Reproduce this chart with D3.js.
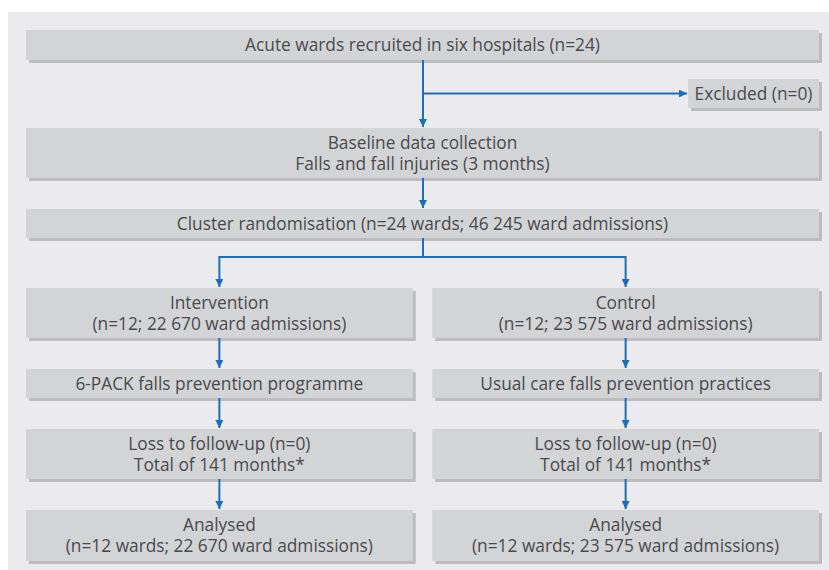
<!DOCTYPE html>
<html>
<head>
<meta charset="utf-8">
<script src="https://cdn.jsdelivr.net/npm/d3@7"></script>
<style>
  html, body { margin: 0; padding: 0; background: #ffffff; }
  svg { display: block; }
</style>
</head>
<body>
<svg id="chart" width="829" height="570"></svg>
<script>
// ---- data ----
const topLabels = [
  ["Acute wards recruited in six hospitals (n=24)"],
  ["Baseline data collection", "Falls and fall injuries (3 months)"],
  ["Cluster randomisation (n=24 wards; 46 245 ward admissions)"]
];
const excludedLabel = ["Excluded (n=0)"];
const arms = ["Intervention", "Control"];
const armLabels = [
  [
    ["Intervention", "(n=12; 22 670 ward admissions)"],
    ["6-PACK falls prevention programme"],
    ["Loss to follow-up (n=0)", "Total of 141 months*"],
    ["Analysed", "(n=12 wards; 22 670 ward admissions)"]
  ],
  [
    ["Control", "(n=12; 23 575 ward admissions)"],
    ["Usual care falls prevention practices"],
    ["Loss to follow-up (n=0)", "Total of 141 months*"],
    ["Analysed", "(n=12 wards; 23 575 ward admissions)"]
  ]
];

// ---- layout ----
const W = 829, H = 570;
const svg = d3.select("#chart");
const C = {
  panel: "#ebebed", box: "#d3d4d6", shadow: "#bcbdbf",
  text: "#4a4a4c", arrow: "#1a6fbc"
};
const FONT = "'Open Sans', 'Noto Sans', sans-serif";

// fit font size so the first label spans the same width as in the reference
let FS = 16;
{
  const t = svg.append("text").attr("font-family", FONT).attr("font-size", 20).text(topLabels[0][0]);
  const w = t.node().getComputedTextLength();
  t.remove();
  if (w > 0) FS = 20 * 355 / w;
}

const rowTops = [30, 128, 209, 288, 369, 429, 510];
const rowBots = [60, 178, 238, 338, 398, 479, 561];
const xFull = [26, 819];
const colX = d3.scaleBand().domain(arms).range([26, 819]).paddingInner(0.048);
const excl = { x0: 688, x1: 819, y0: 79, y1: 108 };

const defs = svg.append("defs");
defs.append("marker").attr("id", "ah")
  .attr("viewBox", "0 0 10 10").attr("refX", 10).attr("refY", 5)
  .attr("markerWidth", 10).attr("markerHeight", 8).attr("markerUnits", "userSpaceOnUse")
  .attr("orient", "auto")
  .append("path").attr("d", "M0,0L10,5L0,10Z").attr("fill", C.arrow);

svg.append("rect").attr("x", 8).attr("y", 12).attr("width", W - 8).attr("height", H - 12)
  .attr("fill", C.panel);

function box(x0, x1, y0, y1, lines) {
  const g = svg.append("g");
  g.append("rect").attr("x", x0 + 3).attr("y", y0 + 3).attr("width", x1 - x0).attr("height", y1 - y0)
    .attr("fill", C.shadow);
  g.append("rect").attr("x", x0).attr("y", y0).attr("width", x1 - x0).attr("height", y1 - y0)
    .attr("fill", C.box);
  const cx = (x0 + x1) / 2, cy = (y0 + y1) / 2;
  const lh = 21;
  lines.forEach((t, i) => {
    g.append("text")
      .attr("x", cx)
      .attr("y", cy + (i - (lines.length - 1) / 2) * lh)
      .attr("dy", "0.36em")
      .attr("text-anchor", "middle")
      .attr("font-family", FONT).attr("font-size", FS).attr("fill", C.text)
      .text(t);
  });
}

function arrow(pts) {
  svg.append("path")
    .attr("d", d3.line()(pts))
    .attr("fill", "none").attr("stroke", C.arrow).attr("stroke-width", 2)
    .attr("marker-end", "url(#ah)");
}
function line(pts) {
  svg.append("path")
    .attr("d", d3.line()(pts))
    .attr("fill", "none").attr("stroke", C.arrow).attr("stroke-width", 2);
}

const cxMain = 423;
topLabels.forEach((lines, i) => box(xFull[0], xFull[1], rowTops[i], rowBots[i], lines));
box(excl.x0, excl.x1, excl.y0, excl.y1, excludedLabel);

arrow([[cxMain, rowBots[0]], [cxMain, rowTops[1] - 1]]);
arrow([[cxMain, (excl.y0 + excl.y1) / 2], [excl.x0 - 1, (excl.y0 + excl.y1) / 2]]);
arrow([[cxMain, rowBots[1]], [cxMain, rowTops[2] - 1]]);

const branchY = 257;
const armCx = arms.map(a => colX(a) + colX.bandwidth() / 2);
line([[cxMain, rowBots[2]], [cxMain, branchY]]);
line([[armCx[0], branchY], [armCx[1], branchY]]);
armCx.forEach(cx => arrow([[cx, branchY - 1], [cx, rowTops[3] - 1]]));

arms.forEach((a, j) => {
  const x0 = colX(a), x1 = colX(a) + colX.bandwidth();
  armLabels[j].forEach((lines, k) => {
    const r = 3 + k;
    box(x0, x1, rowTops[r], rowBots[r], lines);
    if (k < armLabels[j].length - 1) {
      arrow([[armCx[j], rowBots[r]], [armCx[j], rowTops[r + 1] - 1]]);
    }
  });
});
</script>
</body>
</html>
